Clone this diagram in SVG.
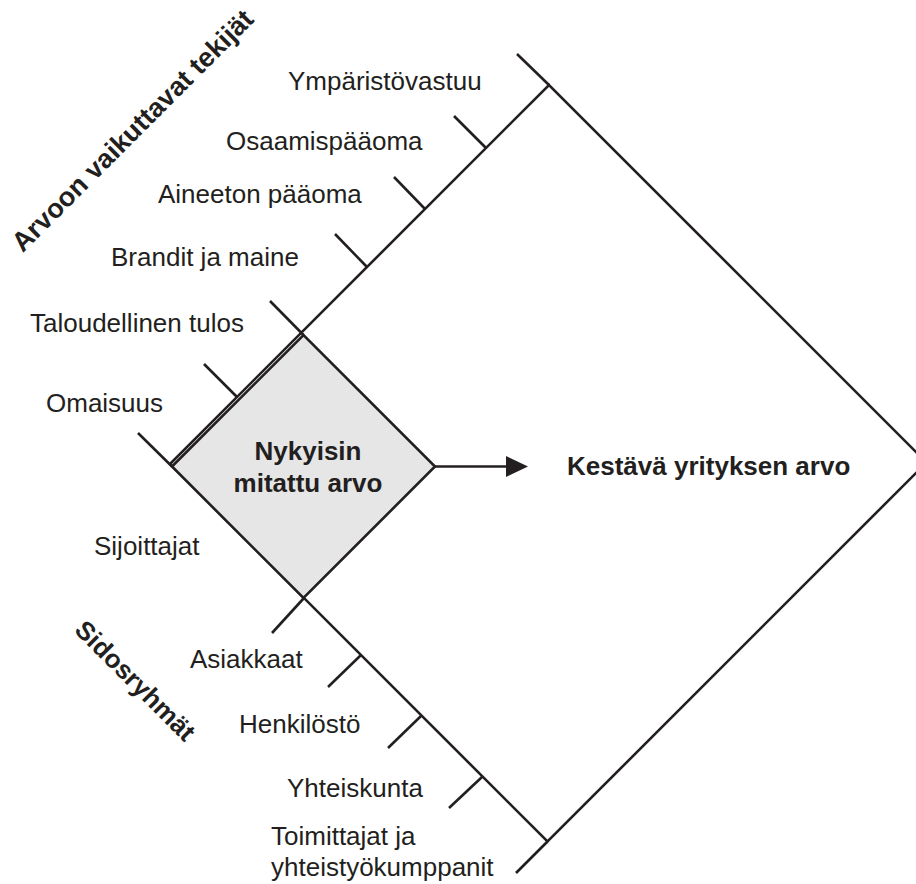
<svg xmlns="http://www.w3.org/2000/svg" width="916" height="884" viewBox="0 0 916 884">
<style>
.ln{stroke:#231f20;stroke-width:2.6;fill:none;stroke-linecap:butt}
.t{font-family:"Liberation Sans",Arial,sans-serif;font-size:26px;fill:#231f20}
.b{font-family:"Liberation Sans",Arial,sans-serif;font-size:26px;font-weight:bold;fill:#231f20}
</style>
<rect width="916" height="884" fill="#ffffff"/>
<g id="big-diamond">
<polygon class="ln" points="170,464 549,85 926.5,462.5 547.5,841.5"/>
</g>
<g id="current-value">
<polygon points="172,466.5 303.5,335 435,466.5 303.5,598" fill="#e6e6e6" stroke="#231f20" stroke-width="2.6"/>
<text class="b" x="308" y="460" text-anchor="middle">Nykyisin</text>
<text class="b" x="308" y="492" text-anchor="middle">mitattu arvo</text>
</g>
<g id="sustainable-value">
<text class="b" x="567" y="475">Kestävä yrityksen arvo</text>
</g>
<g id="connectors">
<line class="ln" x1="435" y1="466.5" x2="510" y2="466.5"/>
<polygon points="506,456 528,466.5 506,477" fill="#231f20"/>
<line class="ln" x1="549" y1="85" x2="517" y2="54"/>
<line class="ln" x1="486" y1="148" x2="454" y2="116"/>
<line class="ln" x1="425" y1="209" x2="394" y2="177"/>
<line class="ln" x1="367" y1="267" x2="335" y2="234"/>
<line class="ln" x1="303.5" y1="335" x2="270" y2="301"/>
<line class="ln" x1="237" y1="397" x2="204" y2="364"/>
<line class="ln" x1="172" y1="466.5" x2="138" y2="433"/>
<line class="ln" x1="304" y1="598" x2="272" y2="633"/>
<line class="ln" x1="361" y1="655" x2="328" y2="687"/>
<line class="ln" x1="421" y1="716" x2="388" y2="748"/>
<line class="ln" x1="482" y1="777" x2="449" y2="808"/>
<line class="ln" x1="547.5" y1="841.5" x2="516" y2="873"/>
</g>
<g id="factors">
<text class="b" style="font-size:27px" transform="translate(139,137) rotate(-45)" text-anchor="middle">Arvoon vaikuttavat tekijät</text>
<text class="t" x="288" y="90">Ympäristövastuu</text>
<text class="t" x="226" y="150">Osaamispääoma</text>
<text class="t" x="158" y="203">Aineeton pääoma</text>
<text class="t" x="111" y="266">Brandit ja maine</text>
<text class="t" x="30" y="332">Taloudellinen tulos</text>
<text class="t" x="46" y="412">Omaisuus</text>
</g>
<g id="stakeholders">
<text class="b" transform="translate(129,687) rotate(45)" text-anchor="middle">Sidosryhmät</text>
<text class="t" x="94" y="555">Sijoittajat</text>
<text class="t" x="190" y="668">Asiakkaat</text>
<text class="t" x="239" y="733">Henkilöstö</text>
<text class="t" x="287" y="797">Yhteiskunta</text>
<text class="t" x="271" y="845">Toimittajat ja</text>
<text class="t" x="271" y="876">yhteistyökumppanit</text>
</g>
</svg>
